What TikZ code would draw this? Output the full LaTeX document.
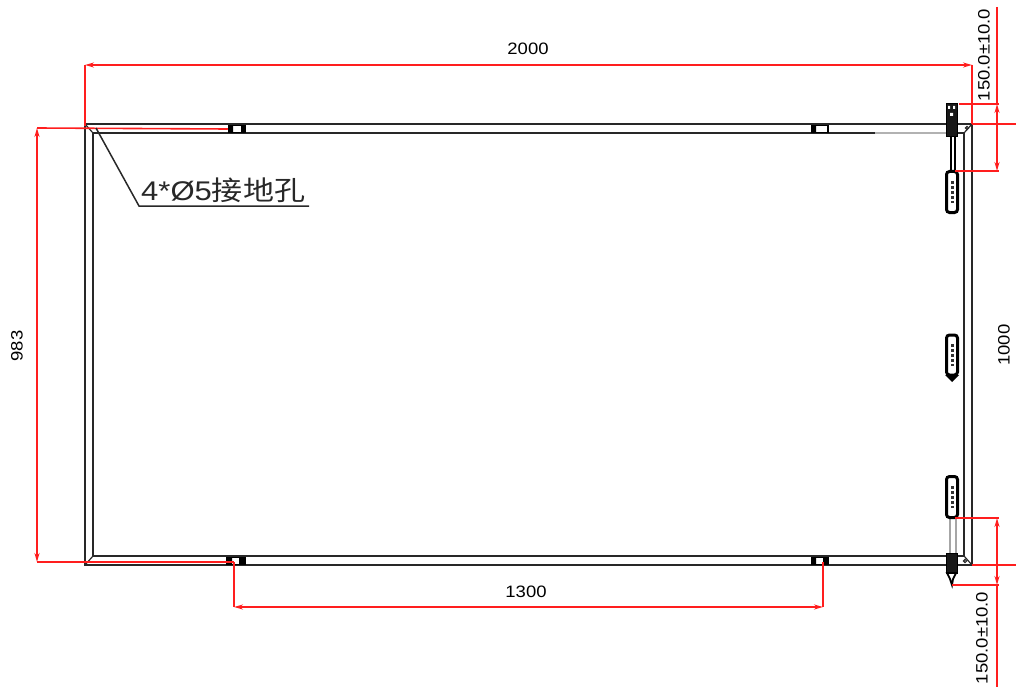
\documentclass[tikz,border=0pt]{standalone}
\usepackage{fontspec}
\setmainfont{Liberation Sans}
\newfontfamily\cjk{Noto Sans CJK SC}
\usetikzlibrary{arrows.meta}
\definecolor{dimred}{RGB}{255,30,30}
\definecolor{frameblk}{RGB}{40,40,40}
\newcommand{\dimstr}[1]{\scalebox{1.12}[1]{#1}}
\tikzset{
  x=1pt,y=-1pt,
  frameline/.style={draw=frameblk,line width=2pt},
  thinline/.style={draw=frameblk,line width=1.2pt},
  greyline/.style={draw=black!30,line width=1.6pt},
  dimline/.style={draw=dimred,line width=1.6pt},
  dimarrow/.style={dimline,{Stealth[length=9pt,width=5pt]}-{Stealth[length=9pt,width=5pt]}},
  dimtext/.style={font=\fontsize{16.5}{19}\selectfont,text=black,inner sep=0pt},
  blackblock/.style={draw=black,fill=black!90,line width=1pt,inner sep=0pt},
  slotbox/.style={draw=black,fill=white,line width=3pt,rounded corners=3pt,inner sep=0pt},
  smallhinge/.style={draw=black,fill=white,line width=1.5pt,inner sep=0pt,minimum height=7pt},
}
\begin{document}
\begin{tikzpicture}
\useasboundingbox (0,0) rectangle (1016,687);
% corner coordinates
\coordinate (otl) at (85,124);
\coordinate (otr) at (972,124);
\coordinate (obr) at (972,565);
\coordinate (obl) at (85,565);
\coordinate (itl) at (93,133);
\coordinate (itr) at (964,133);
\coordinate (ibr) at (964,556);
\coordinate (ibl) at (93,556);
\coordinate (igrey) at (875,133);
% frame
\draw[frameline] (otl) -- (otr) -- (obr) -- (obl) -- cycle;
\draw[frameline] (itl) -- (igrey);
\draw[greyline] (igrey) -- (946,133);
\draw[frameline] (957,133) -- (itr) -- (ibr) -- (ibl) -- (itl);
\draw[thinline] (otl) -- (itl) (otr) -- (itr) (obr) -- (ibr) (obl) -- (ibl);
\draw[thinline] (967,128) circle (1.6pt);
\draw[thinline] (965,561) circle (1.6pt);
% small hinges on the long edges
\node[smallhinge,minimum width=17pt] (ha) at (237,129) {};
\node[smallhinge,minimum width=16pt] (hb) at (820,129) {};
\node[smallhinge,minimum width=18pt] (hc) at (236,561) {};
\node[smallhinge,minimum width=16pt] (hd) at (820,561) {};
\fill[black] (228,126) rectangle (233,132) (241,126) rectangle (245,132)
  (812,126) rectangle (816,132) (226,557) rectangle (232,564) (239,557) rectangle (244,564)
  (812,557) rectangle (816,564) (823,557) rectangle (827,564);
% right-side hardware
\draw[black,line width=1.7pt] (951,137) -- (951,171) (955,137) -- (955,171);
\draw[black!35,line width=1.7pt] (950,518) -- (950,554) (956,518) -- (956,554);
\node[blackblock,minimum width=11pt,minimum height=33pt] (blocktop) at (952,120) {};
\fill[white] (948,106) rectangle (950,109) (953,106) rectangle (955,109) (950,113) rectangle (953,116);
\node[blackblock,minimum width=11pt,minimum height=20pt] (blockbot) at (952,563) {};
\draw[black,line width=1.8pt,fill=white] (947,573) -- (956,573) -- (953,579) -- (952,585) -- (950,579) -- cycle;
\node[slotbox,minimum width=11pt,minimum height=41pt] (slota) at (952,192) {};
\node[slotbox,minimum width=11pt,minimum height=40pt] (slotb) at (952,355) {};
\node[slotbox,minimum width=11pt,minimum height=41pt] (slotc) at (952,497) {};
\foreach \n/\c in {a/192,b/355,c/497}{
  \draw[black!80,line width=3pt,dash pattern=on 3pt off 2pt] (952,\c-11) -- (952,\c+11);
}
\fill[black] (945,375) -- (959,375) -- (952,382) -- cycle;
% dimension 2000
\coordinate (dl) at (85,65);
\coordinate (dr) at (972,65);
\draw[dimarrow] (dl) -- (dr);
\draw[dimline] (dl) -- (85,126);
\draw[dimline] (dr) -- (otr);
\node[dimtext] (t2000) at (528,49) {\dimstr{2000}};
% dimension 983
\coordinate (hl) at (37,128);
\coordinate (hb2) at (37,562);
\draw[dimarrow] (hl) -- (hb2);
\draw[dimline] (hl) -- (ha.west);
\draw[dimline] (hb2) -- (234,562);
\node[dimtext,rotate=90] (t983) at (17,346) {\dimstr{983}};
% dimension 1300
\coordinate (ba) at (234,607);
\coordinate (bb) at (823,607);
\draw[dimarrow] (ba) -- (bb);
\draw[dimline] (234,562) -- (ba);
\draw[dimline] (823,562) -- (bb);
\node[dimtext] (t1300) at (526,592) {\dimstr{1300}};
% right dimensions
\coordinate (ra) at (997,104);
\coordinate (rb) at (997,171);
\coordinate (rc) at (997,518);
\coordinate (rd) at (997,585);
\draw[dimarrow] (ra) -- (rb);
\draw[dimline] (997,7) -- (ra);
\draw[dimline] (959,104) -- (999,104);
\draw[dimline] (955,171) -- (999,171);
\draw[dimarrow] (rc) -- (rd);
\draw[dimline] (rd) -- (997,687);
\draw[dimline] (955,518) -- (999,518);
\draw[dimline] (952,585) -- (999,585);
\draw[dimline] (otr) -- (1016,124);
\draw[dimline] (obr) -- (1016,565);
\node[dimtext,rotate=90] (ttop) at (984,55) {\dimstr{150.0±10.0}};
\node[dimtext,rotate=90] (tbot) at (982,638) {\dimstr{150.0±10.0}};
\node[dimtext,rotate=90] (t1000) at (1004,345) {\dimstr{1000}};
% leader
\coordinate (lp) at (96,128);
\coordinate (lk) at (139,206);
\coordinate (le) at (309,206);
\draw[frameline,line width=1.5pt] (lp) -- (lk) -- (le);
\node[anchor=base west,inner sep=0pt,font=\fontsize{27}{30}\selectfont,text=frameblk] (lbl) at (141,200) {\scalebox{1.15}[1]{4*Ø5{\cjk 接地孔}}};
\end{tikzpicture}
\end{document}
